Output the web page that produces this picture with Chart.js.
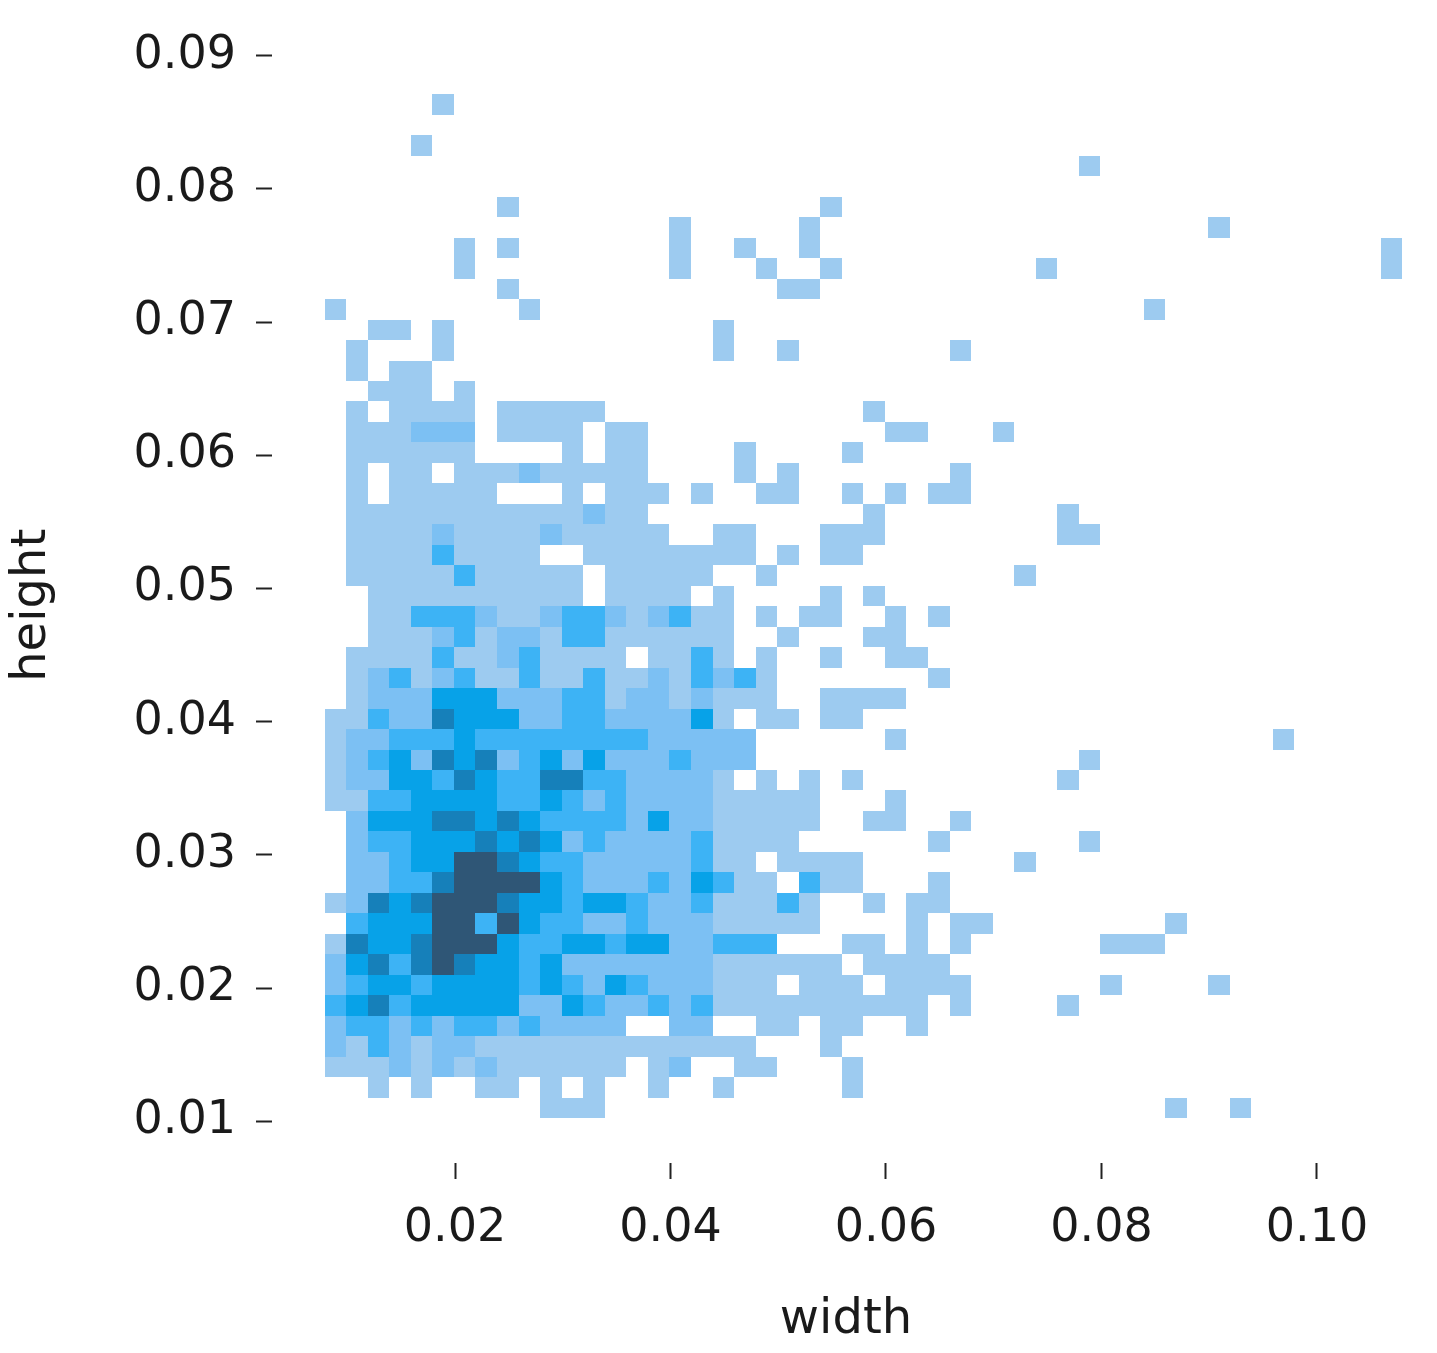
<!DOCTYPE html>
<html><head><meta charset="utf-8">
<script src="https://cdn.jsdelivr.net/npm/chart.js@4/dist/chart.umd.min.js"></script>
<style>html,body{margin:0;padding:0;background:#fff}#wrap{width:1437px;height:1353px}</style>
</head><body><div id="wrap"><canvas id="c"></canvas></div>
<script>
// Histogram bin geometry (data units)
const xBinStart = 0.0079, xBinWidth = 0.002;
const yBinTop = 0.08709, yBinHeight = 0.001537;
const xTicks = [0.02, 0.04, 0.06, 0.08, 0.10];
const yTicks = [0.01, 0.02, 0.03, 0.04, 0.05, 0.06, 0.07, 0.08, 0.09];
const levelColors = ['', '#9dcbf0', '#7cc0f3', '#3db3f5', '#07a2e8', '#1680ba', '#2f5676'];
// Rows from top (height high) to bottom; each char = count level of a width bin
const rowLevels = [
"00000100000000000000000000000000000000000000000000",
"00000000000000000000000000000000000000000000000000",
"00001000000000000000000000000000000000000000000000",
"00000000000000000000000000000000000100000000000000",
"00000000000000000000000000000000000000000000000000",
"00000000100000000000000100000000000000000000000000",
"00000000000000001000001000000000000000000100000000",
"00000010100000001001001000000000000000000000000001",
"00000010000000001000100100000000010000000000000001",
"00000000100000000000011000000000000000000000000000",
"10000000010000000000000000000000000000100000000000",
"00110100000000000010000000000000000000000000000000",
"01000100000000000010010000000100000000000000000000",
"01011000000000000000000000000000000000000000000000",
"00111010000000000000000000000000000000000000000000",
"01011110111110000000000001000000000000000000000000",
"01112220111101100000000000110001000000000000000000",
"01111110000101100001000010000000000000000000000000",
"01011011121111100001010000000100000000000000000000",
"01011111000101110100110010101100000000000000000000",
"01111111111121100000000001000000001000000000000000",
"01111211112111110011000111000000001100000000000000",
"01111311110011111111010110000000000000000000000000",
"01111131111101111100100000000000100000000000000000",
"00111111111101111010000101000000000000000000000000",
"00113332112332123110101100101000000000000000000000",
"00111231221331111110010001100000000000000000000000",
"01111311231111011310100100110000000000000000000000",
"01231231131131121323100000001000000000000000000000",
"01222444222331221211100111100000000000000000000000",
"11322544422332222410110110000000000000000000000000",
"12233343333333322222000000100000000000000000100000",
"12342545234242223222000000000000000100000000000000",
"12244354335533222210101010000000001000000000000000",
"11334444334323222211111000100000000000000000000000",
"02444554543333242211111001100100000000000000000000",
"02334445454232222311110000001000000100000000000000",
"02234466543322222311011110000000100000000000000000",
"02233566664322232431103110001000000000000000000000",
"12545666544344322311131001011000000000000000000000",
"03444663643322322211111000010110000000010000000000",
"15445666433443442233300011010100000011100000000000",
"24535654434222222211111101111000000000000000000000",
"23443444434324322211101110111100000010000100000000",
"34534444422432232311111111110100001000000000000000",
"23323233232222002200110110010000000000000000000000",
"21321221111111111111000100000000000000000000000000",
"11121212111111012001100010000000000000000000000000",
"00101001101010010010000010000000000000000000000000",
"00000000001110000000000000000000000000010010000000"
];

const cells = [];
rowLevels.forEach((row, r) => {
  for (let c = 0; c < row.length; c++) {
    const v = +row[c];
    if (v > 0) cells.push({x: xBinStart + (c + 0.5) * xBinWidth, y: yBinTop - (r + 0.5) * yBinHeight, v});
  }
});

const heatPlugin = {
  id: 'heat',
  beforeDatasetsDraw(chart) {
    const {ctx, scales: {x, y}} = chart;
    ctx.save();
    cells.forEach(p => {
      const x0 = x.getPixelForValue(p.x - xBinWidth / 2), x1 = x.getPixelForValue(p.x + xBinWidth / 2);
      const y0 = y.getPixelForValue(p.y + yBinHeight / 2), y1 = y.getPixelForValue(p.y - yBinHeight / 2);
      ctx.fillStyle = levelColors[p.v];
      ctx.fillRect(Math.round(x0), Math.round(y0), Math.round(x1) - Math.round(x0), Math.round(y1) - Math.round(y0));
    });
    ctx.restore();
  }
};

const font = {family: 'DejaVu Sans', size: 46};
new Chart(document.getElementById('c'), {
  type: 'scatter',
  data: {datasets: [{data: cells, pointRadius: 0, pointHoverRadius: 0}]},
  plugins: [heatPlugin],
  options: {
    responsive: true, maintainAspectRatio: false, animation: false,
    layout: {padding: {top: 40, right: 17, left: 0, bottom: 0}},
    plugins: {legend: {display: false}, tooltip: {enabled: false}},
    scales: {
      x: {
        type: 'linear', min: 0.003016, max: 0.10956,
        afterBuildTicks: s => { s.ticks = xTicks.map(v => ({value: v})); },
        afterFit: s => { s.height = 190; },
        border: {display: false},
        grid: {drawOnChartArea: false, drawTicks: true, tickLength: 16, tickColor: '#222', tickWidth: 2},
        ticks: {font, color: '#1a1a1a', padding: 22, maxRotation: 0, callback: v => v.toFixed(2)},
        title: {display: true, text: 'width', font: {family: 'DejaVu Sans', size: 48}, color: '#1a1a1a', padding: {top: 0}}
      },
      y: {
        type: 'linear', min: 0.006868, max: 0.09060,
        afterBuildTicks: s => { s.ticks = yTicks.map(v => ({value: v})); },
        afterFit: s => { s.width = 272; },
        border: {display: false},
        grid: {drawOnChartArea: false, drawTicks: true, tickLength: 16, tickColor: '#222', tickWidth: 2},
        ticks: {font, color: '#1a1a1a', padding: 20, callback: v => v.toFixed(2)},
        title: {display: true, text: 'height', font: {family: 'DejaVu Sans', size: 48}, color: '#1a1a1a', padding: {bottom: 0}}
      }
    }
  }
});
</script></body></html>
